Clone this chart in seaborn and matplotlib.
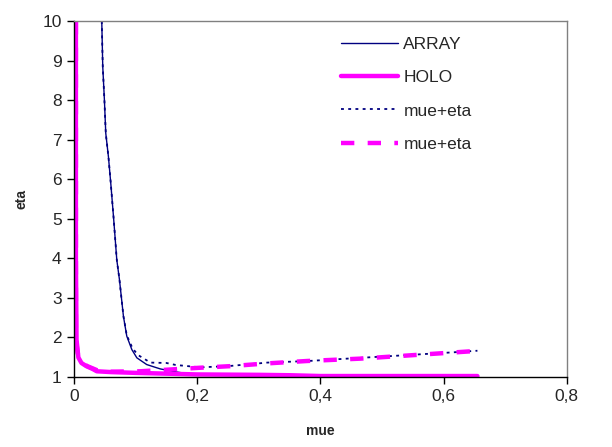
import numpy as np
import pandas as pd
import matplotlib
matplotlib.use("Agg")
import matplotlib.pyplot as plt
import matplotlib.ticker as mticker
import seaborn as sns

# ARRAY curve and its mue+eta sum
array_mue = [0.045, 0.0466, 0.0493, 0.0515, 0.0558, 0.0596, 0.064, 0.0694, 0.0737, 0.0802,
             0.0856, 0.0938, 0.102, 0.118, 0.140, 0.160, 0.183, 0.22, 0.30, 0.40, 0.50,
             0.60, 0.655]
array_eta = [10.0, 8.85, 8.0, 7.16, 6.57, 5.90, 5.06, 3.96, 3.46, 2.53,
             2.03, 1.69, 1.48, 1.31, 1.20, 1.14, 1.08, 1.06, 1.04, 1.03, 1.02,
             1.02, 1.02]

array_sum_mue = [0.045, 0.0466, 0.0493, 0.0515, 0.0558, 0.0596, 0.064, 0.0694, 0.0737, 0.0802,
                 0.0856, 0.095, 0.104, 0.124, 0.150, 0.165, 0.205, 0.25, 0.314, 0.38,
                 0.454, 0.52, 0.616, 0.655]
array_sum_eta = [10.0, 8.85, 8.0, 7.16, 6.57, 5.90, 5.06, 3.96, 3.46, 2.53,
                 2.05, 1.72, 1.55, 1.36, 1.35, 1.30, 1.24, 1.27, 1.36, 1.40,
                 1.47, 1.53, 1.62, 1.66]

# HOLO curve and its mue+eta sum
holo_mue = [0.003, 0.003, 0.004, 0.007, 0.012, 0.020, 0.030, 0.037, 0.060, 0.10, 0.15,
            0.20, 0.30, 0.35, 0.40, 0.50, 0.60, 0.655]
holo_eta = [10.0, 4.0, 1.94, 1.49, 1.35, 1.27, 1.20, 1.14, 1.12, 1.10, 1.08,
            1.06, 1.05, 1.04, 1.02, 1.02, 1.02, 1.02]

holo_sum_mue = [0.003, 0.003, 0.007, 0.020, 0.040, 0.060, 0.107, 0.151, 0.205, 0.254,
                0.314, 0.378, 0.465, 0.552, 0.649]
holo_sum_eta = [10.0, 1.94, 1.49, 1.28, 1.15, 1.13, 1.14, 1.18, 1.23, 1.27,
                1.34, 1.40, 1.46, 1.55, 1.65]

sns.set_style("white")
plt.rcParams['font.family'] = ['Liberation Sans', 'DejaVu Sans']

navy = '#000080'
magenta = '#FF00FF'

fig = plt.figure(figsize=(6.12, 4.47), dpi=100)
ax = fig.add_axes([0.121, 0.157, 0.805, 0.796])

sns.lineplot(x=array_mue, y=array_eta, sort=False, estimator=None, ax=ax,
             color=navy, linewidth=1.0, label='ARRAY')
sns.lineplot(x=holo_mue, y=holo_eta, sort=False, estimator=None, ax=ax,
             color=magenta, linewidth=3.2, label='HOLO')
l3 = sns.lineplot(x=array_sum_mue, y=array_sum_eta, sort=False, estimator=None, ax=ax,
                  color=navy, linewidth=1.3, label='mue+eta').lines[-1]
l3.set_dashes((1.6, 2.4))
l4 = sns.lineplot(x=holo_sum_mue, y=holo_sum_eta, sort=False, estimator=None, ax=ax,
                  color=magenta, linewidth=3.2, label='mue+eta').lines[-1]
l4.set_dashes((3.0, 3.0))

ax.set_xlim(0, 0.8)
ax.set_ylim(1, 10)
ax.set_xticks([0, 0.2, 0.4, 0.6, 0.8])
ax.set_yticks(range(1, 11))
ax.xaxis.set_major_formatter(mticker.FuncFormatter(lambda v, p: f"{v:g}".replace('.', ',')))

ax.tick_params(axis='both', labelsize=12.5, direction='out', length=5, width=1,
               color='black', pad=4, bottom=True, left=True)
for s in ['left', 'bottom']:
    ax.spines[s].set_color('black')
    ax.spines[s].set_linewidth(1.0)
for s in ['top', 'right']:
    ax.spines[s].set_color('#808080')
    ax.spines[s].set_linewidth(1.0)

ax.set_xlabel('mue', fontsize=10, fontweight='bold', labelpad=14)
ax.set_ylabel('eta', fontsize=10, fontweight='bold', labelpad=10)

leg = ax.legend(loc='upper left', bbox_to_anchor=(0.51, 1.0), frameon=False,
                fontsize=12.5, handlelength=3.3, handletextpad=0.3, labelspacing=1.05)

fig.savefig('out.png', dpi=100)
